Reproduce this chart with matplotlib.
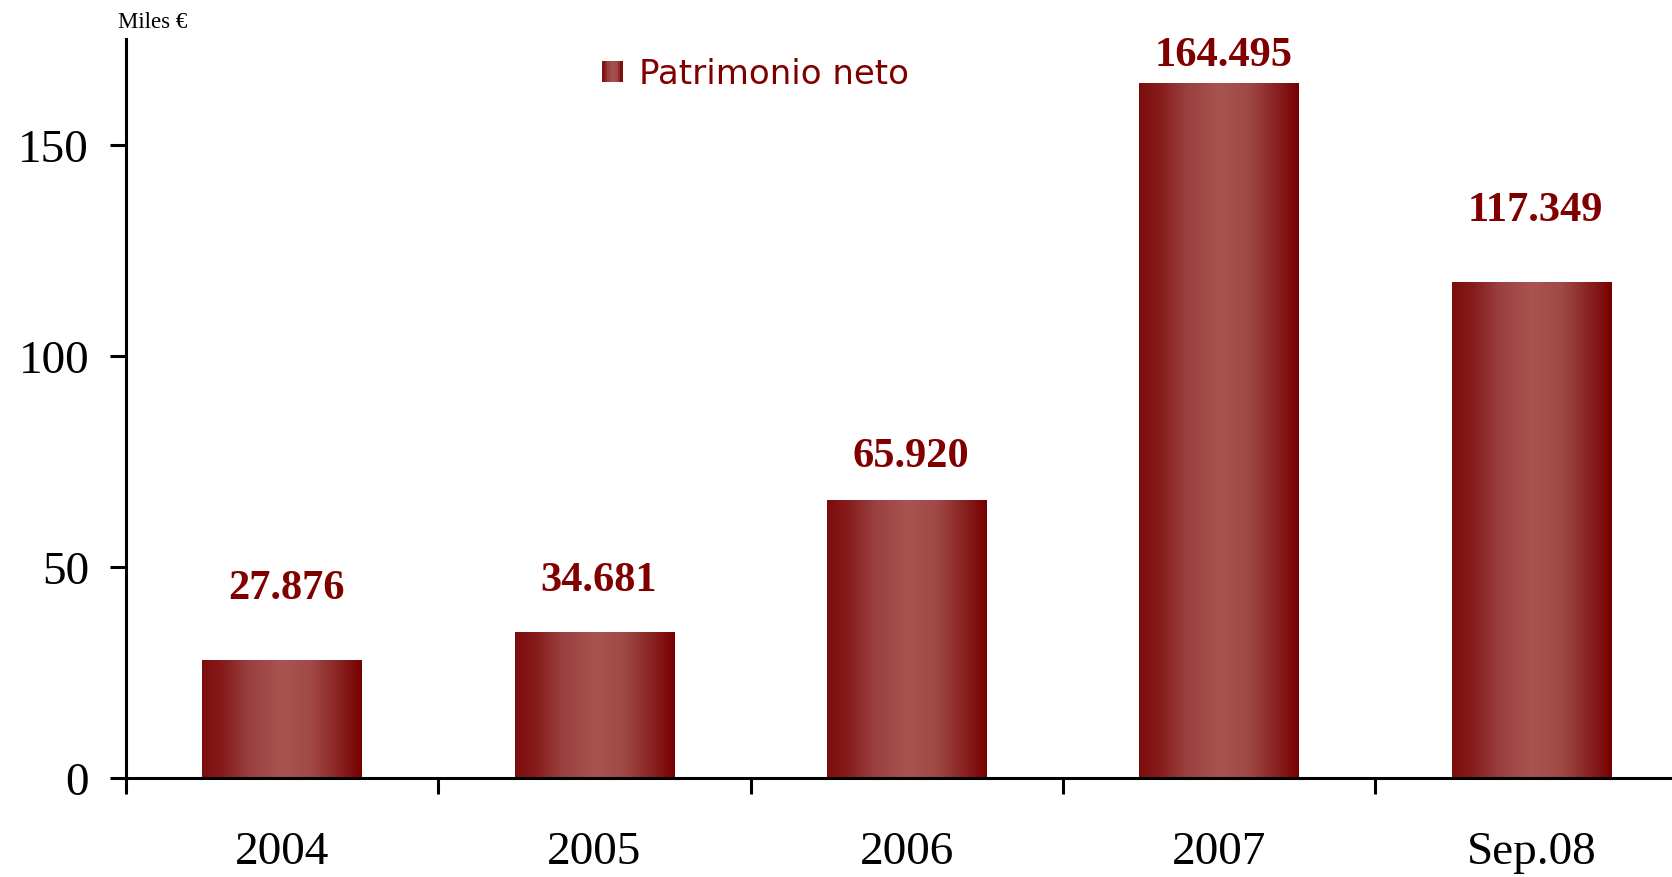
import numpy as np
import matplotlib
matplotlib.use("Agg")
import matplotlib.pyplot as plt
from matplotlib.colors import LinearSegmentedColormap
from matplotlib.patches import Rectangle
from matplotlib.legend_handler import HandlerBase

categories = ["2004", "2005", "2006", "2007", "Sep.08"]
values = [27.876, 34.681, 65.920, 164.495, 117.349]
value_labels = ["27.876", "34.681", "65.920", "164.495", "117.349"]
label_gap_pts = [45, 30, 24, 13, 45]
yticks = [0, 50, 100, 150]
legend_label = "Patrimonio neto"
unit_label = "Miles €"

DARK_RED = "#800000"
grad_cmap = LinearSegmentedColormap.from_list(
    "bargrad",
    [(0.0, "#7C0D0D"), (0.12, "#861A1A"), (0.3, "#9A4040"),
     (0.5, "#A85450"), (0.68, "#A04A47"), (0.85, "#8A2424"), (1.0, "#780000")])

serif = ["Liberation Serif", "DejaVu Serif"]

fig = plt.figure(figsize=(16.72, 8.78), dpi=100)
ax = fig.add_axes([0.0753, 0.1128, 1 - 0.0753, 0.9544 - 0.1128])

x = np.arange(len(categories))
bar_w = 0.51
bars = ax.bar(x, values, width=bar_w, color="none", edgecolor="none", zorder=2)
grad = np.linspace(0, 1, 256).reshape(1, -1)
for b in bars:
    x0, y0 = b.get_x(), b.get_y()
    w, h = b.get_width(), b.get_height()
    im = ax.imshow(grad, cmap=grad_cmap, aspect="auto",
                   extent=[x0, x0 + w, y0, y0 + h], zorder=2, interpolation="bilinear")
    im.set_clip_path(b)

for xi, v, lab, gap in zip(x, values, value_labels, label_gap_pts):
    ax.annotate(lab, (xi, v), xytext=(3, gap), textcoords="offset points",
                ha="center", va="baseline", fontsize=30.5, fontweight="bold",
                color=DARK_RED, family=serif)

ax.set_xlim(-0.5, 4.45)
ax.set_ylim(0, 175)

for s in ["top", "right"]:
    ax.spines[s].set_visible(False)
for s in ["left", "bottom"]:
    ax.spines[s].set_linewidth(2.2)
    ax.spines[s].set_color("black")

ax.set_yticks(yticks)
ax.set_yticklabels([str(t) for t in yticks], family=serif, fontsize=34)
ax.tick_params(axis="y", direction="out", length=11.5, width=2.2, pad=15)

ax.set_xticks(np.arange(-0.5, len(categories) - 0.5, 1.0))
ax.set_xticklabels([])
ax.set_xticks(x, minor=True)
ax.set_xticklabels(categories, minor=True, family=serif, fontsize=34)
ax.tick_params(axis="x", which="major", direction="out", length=11.5, width=2.2)
ax.tick_params(axis="x", which="minor", length=0, pad=38)

fig.text(153 / 1672, 1 - 23 / 878, unit_label, ha="center", va="center",
         fontsize=16.5, family=serif)


class GradientHandler(HandlerBase):
    def create_artists(self, legend, orig_handle, xdescent, ydescent, width,
                       height, fontsize, trans):
        n = 8
        side = 15.0
        x0 = -xdescent + (width - side)
        y0 = -ydescent + (height - side) / 2
        arts = []
        for i in range(n):
            r = Rectangle((x0 + i * side / n, y0), side / n, side,
                          facecolor=grad_cmap((i + 0.5) / n), edgecolor="none",
                          transform=trans)
            arts.append(r)
        return arts


handle = Rectangle((0, 0), 1, 1)
leg = ax.legend([handle], [legend_label], handler_map={Rectangle: GradientHandler()},
                loc="center left", bbox_to_anchor=(0.288, 0.953), frameon=False,
                prop={"family": ["DejaVu Sans"], "size": 24.5},
                handlelength=0.62, handletextpad=0.48)
for t in leg.get_texts():
    t.set_color(DARK_RED)

fig.savefig("out.png", dpi=100)
